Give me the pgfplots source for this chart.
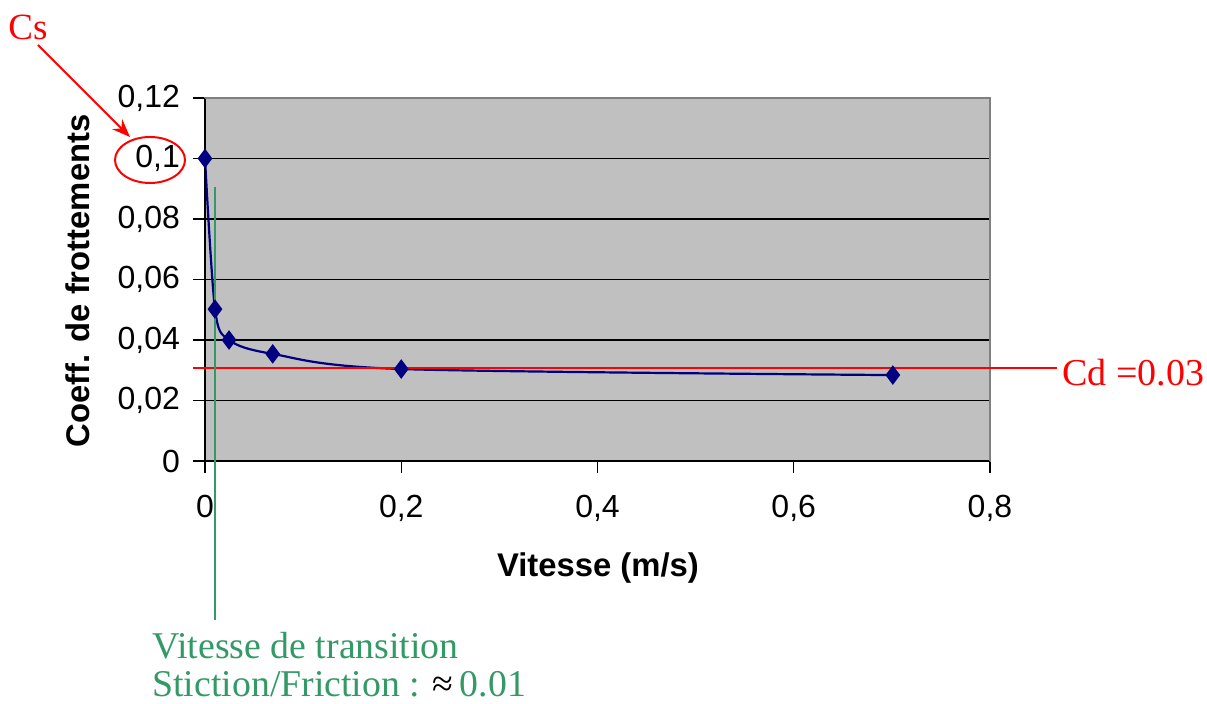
\documentclass[border=0pt]{standalone}
\usepackage{fontspec}
\setmainfont{Liberation Sans}
\newfontfamily\timesfont{Liberation Serif}
\usepackage{pgfplots}
\pgfplotsset{compat=1.18}
\usetikzlibrary{arrows.meta}
\definecolor{plotbg}{RGB}{192,192,192}
\definecolor{navy}{RGB}{0,0,128}
\definecolor{sgreen}{RGB}{51,153,102}
\definecolor{xlgray}{RGB}{128,128,128}
\begin{document}
\begin{tikzpicture}[x=1pt,y=1pt]
\useasboundingbox (0,0) rectangle (603.5,352);
\begin{axis}[
  at={(102.5pt,121.5pt)}, anchor=south west,
  scale only axis, width=392.5pt, height=181.5pt,
  xmin=0, xmax=0.8, ymin=0, ymax=0.12,
  xtick={0,0.2,0.4,0.6,0.8},
  ytick={0,0.02,0.04,0.06,0.08,0.1,0.12},
  /pgf/number format/.cd, use comma, fixed, precision=2, assume math mode=true, /pgfplots/.cd,
  ymajorgrids, major grid style={black, line width=0.6pt},
  axis background/.style={fill=plotbg},
  axis line style={draw=xlgray, line width=0.6pt},
  tick align=outside, major tick length=6pt,
  tick style={black, line width=0.6pt},
  xtick pos=bottom, ytick pos=left,
  ticklabel style={font=\fontsize{16}{19}\selectfont},
  xticklabel style={yshift=-7.5pt},
  yticklabel style={xshift=-3pt},
  xlabel={Vitesse (m/s)}, ylabel={Coeff. de frottements},
  xlabel style={font=\fontsize{16.4}{19}\selectfont\bfseries, at={(axis description cs:0.5006,-0.295)}, anchor=center},
  ylabel style={font=\fontsize{16.4}{19}\selectfont\bfseries, at={(axis description cs:-0.1625,0.496)}, anchor=center, rotate=0},
  clip=false,
]
\addplot[navy, line width=1.1pt, smooth, tension=0.5, mark=diamond*, mark size=4pt, mark options={fill=navy, solid}]
  coordinates {(0,0.1) (0.0102,0.0502) (0.0245,0.0400) (0.069,0.0354) (0.2,0.0304) (0.701,0.0284)};
\draw[black, line width=0.8pt] (axis cs:0,0.12) -- (axis cs:0,0) -- (axis cs:0.8,0);
\draw[xlgray, line width=0.6pt] (axis cs:0,0.12) -- (axis cs:0.8,0.12) -- (axis cs:0.8,0);
\draw[red, line width=1pt] (axis cs:-0.012,0.0307) -- (axis cs:0.868,0.0307);
\node[anchor=base west, inner sep=0pt, text=red, font=\timesfont\fontsize{19}{22}\selectfont] at (axis cs:0.8734,0.0251) {Cd =0.03};
\draw[sgreen, line width=1pt] (axis cs:0.0102,0.0906) -- (axis cs:0.0102,-0.0526);
\end{axis}
\node[anchor=base west, inner sep=0pt, text=sgreen, font=\timesfont\fontsize{18.9}{22}\selectfont] at (76,22.5) {Vitesse de transition};
\node[anchor=base west, inner sep=0pt, text=sgreen, font=\timesfont\fontsize{18.9}{22}\selectfont] at (76,3.5) {Stiction/Friction : {\color{black}≈}\,0.01};
\node[anchor=base west, inner sep=0pt, text=red, font=\timesfont\fontsize{18.5}{22}\selectfont] at (4,332) {Cs};
\draw[red, line width=1pt, -{Stealth[length=9pt,width=7pt]}] (19,329.5) -- (65,283.5);
\draw[red, line width=1pt] (75,272) ellipse [x radius=17.5, y radius=11.5];
\end{tikzpicture}
\end{document}
